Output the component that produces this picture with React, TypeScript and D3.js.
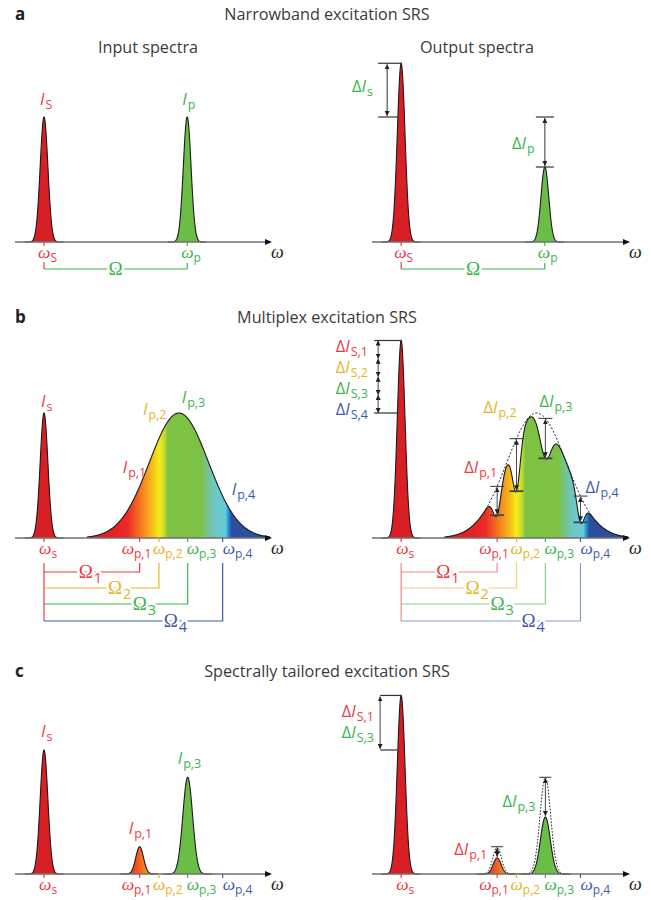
import React from "react";
import * as d3 from "d3";

// frequency positions (arbitrary units, 0-100 along each axis)
const omegaS = 11.3;
const omegaPumpA = 67;
const omegaPump = [48.5, 56, 67.2, 80.8];
const pumpSubs = ["p,1", "p,2", "p,3", "p,4"];

// a: narrowband
const aInput = [1.0, 1.0]; // Stokes, pump
const aOutput = [1.43, 0.6];
const narrowSigma = 1.5;

// b: multiplex
const bBandCenter = 63.8;
const bBandSigma = 11.5;
const bBandHeight = 1.0;
const bDipDepth = [0.23, 0.42, 0.32, 0.21];
const bDipSigma = [1.5, 1.5, 2.2, 1.4];
const bStokesGain = [0.145, 0.145, 0.145, 0.145];

// c: spectrally tailored
const cPumpIn = [0.22, 0, 0.78, 0];
const cPumpOut = [0.13, 0, 0.46, 0];
const cPumpSigma = [1.5, 0, 1.9, 0];
const cStokesGain = [0.22, 0, 0.22, 0];

const FONT = "'Open Sans', 'Noto Sans', sans-serif";
const SERIF = "'Liberation Serif', 'DejaVu Serif', serif";
const TXT = "#3a3a3a";
const RED = "#ee3a43";
const YEL = "#e8b425";
const GRN = "#39b54a";
const BLU = "#3d5ba9";
const pumpColors = [RED, YEL, GRN, BLU];
const FILL_RED = "#d91f26";
const FILL_GRN = "#6abd45";
const LS = 16.5; // label size

const specStops: [number, string][] = [
  [36, "#e31e24"],
  [44, "#ec2a25"],
  [49, "#f47a20"],
  [53, "#f8b41a"],
  [56, "#f5eb17"],
  [58, "#c9dc2a"],
  [59.5, "#7dc242"],
  [72, "#7dc242"],
  [76, "#73c3a8"],
  [79, "#69c9d1"],
  [82, "#69c9d1"],
  [82.6, "#1fb3ec"],
  [83.4, "#2c7cc7"],
  [84.2, "#2d4e9f"],
  [100, "#2d4b9c"],
];

const gauss = (w: number, c: number, s: number) => Math.exp(-((w - c) ** 2) / (2 * s * s));
const steps = (a: number, b: number, n: number) => d3.range(n + 1).map((i) => a + ((b - a) * i) / n);

function Peak({ x, y, c, s, h, fill, dashed }: any) {
  const pts = steps(c - 5 * s, c + 5 * s, 120).map((w) => [w, h * gauss(w, c, s)]);
  const area = d3.area<number[]>().x((d) => x(d[0])).y0(y(0)).y1((d) => y(d[1]))(pts);
  const line = d3.line<number[]>().x((d) => x(d[0])).y((d) => y(d[1]))(pts);
  return (
    <g>
      {fill && <path d={area!} fill={fill} />}
      <path d={line!} fill="none" stroke="#1a1a1a" strokeWidth={dashed ? 1 : 1.1} strokeDasharray={dashed ? "1.6,1.6" : undefined} />
    </g>
  );
}

function Lab({ x, y, color, pre, main, sub, size = LS, subSize, anchor = "start", serif = false, italic = true, halo = false, dy = 4, dx = 1 }: any) {
  return (
    <text x={x} y={y} fill={color} fontSize={size} textAnchor={anchor}
      stroke={halo ? "#fff" : undefined} strokeWidth={halo ? 5 : undefined} paintOrder="stroke" strokeLinejoin="round">
      {pre ? <tspan>{pre}</tspan> : null}
      <tspan fontStyle={italic ? "italic" : "normal"} fontFamily={serif ? SERIF : undefined}>{main}</tspan>
      {sub ? <tspan dx={dx} dy={dy} fontSize={subSize || size * 0.76} fontStyle="normal" fontFamily={FONT}>{sub}</tspan> : null}
    </text>
  );
}

function Axis({ x, y0 }: any) {
  const [a, b] = x.range();
  return (
    <g>
      <line x1={a} x2={b - 5} y1={y0} y2={y0} stroke="#707070" strokeWidth={1.5} />
      <path d={`M${b},${y0} L${b - 7},${y0 - 3} L${b - 7},${y0 + 3} Z`} fill="#111" />
      <text x={b - 1} y={y0 + 16} fontFamily={SERIF} fontStyle="italic" fontSize={18} fill="#222">ω</text>
    </g>
  );
}

function Tick({ x, y0, color }: any) {
  return <line x1={x} x2={x} y1={y0} y2={y0 + 4} stroke={color} strokeWidth={1.2} />;
}

function DArrow({ x, y1, y2, color = "#333", width = 1 }: any) {
  return <line x1={x} x2={x} y1={y1} y2={y2} stroke={color} strokeWidth={width} markerStart="url(#ah)" markerEnd="url(#ah)" />;
}

function Cap({ x1, x2, y, color = "#333", width = 1.2 }: any) {
  return <line x1={x1} x2={x2} y1={y} y2={y} stroke={color} strokeWidth={width} />;
}

// ω labels under the axis (offsets keep the subscripts from colliding)
const omegaDx = [-18, -6, -1, 0];

function OmegaLab({ x, y, color, sub }: any) {
  return <Lab x={x} y={y} color={color} main="ω" serif sub={sub} size={17.5} subSize={12} dx={0} />;
}

function OmegaRow({ x, y0, stokesSub, pumps }: any) {
  return (
    <g>
      <Tick x={x(omegaS)} y0={y0} color={RED} />
      <OmegaLab x={x(omegaS) - 5} y={y0 + 16} color={RED} sub={stokesSub} />
      {pumps.map((i: number) => (
        <g key={i}>
          <Tick x={x(omegaPump[i])} y0={y0} color={pumpColors[i]} />
          <OmegaLab x={x(omegaPump[i]) + omegaDx[i]} y={y0 + 16} color={pumpColors[i]} sub={pumpSubs[i]} />
        </g>
      ))}
    </g>
  );
}

function ABracket({ x, y0 }: any) {
  const xs = x(omegaS), xp = x(omegaPumpA), yb = y0 + 27;
  return (
    <g>
      <line x1={xs} x2={xs} y1={y0 + 20} y2={yb} stroke={RED} strokeWidth={1.2} />
      <line x1={xs} x2={xp} y1={yb} y2={yb} stroke={GRN} strokeWidth={1.2} />
      <line x1={xp} x2={xp} y1={y0 + 21} y2={yb} stroke={GRN} strokeWidth={1.2} />
      <Lab x={(xs + xp) / 2} y={yb + 6} color={GRN} main="Ω" serif italic={false} size={19} anchor="middle" halo />
    </g>
  );
}

const omegaBracketDy = [34, 50, 66, 83];
const omegaLabelDx = [-61, -51, -55, -59];

function BBracket({ x, y0, light }: any) {
  const xs = x(omegaS);
  const op = light ? 0.6 : 1;
  return (
    <g>
      <line x1={xs} x2={xs} y1={y0 + 25} y2={y0 + omegaBracketDy[3]} stroke={RED} strokeWidth={1.2} opacity={op} />
      {omegaPump.map((w, i) => {
        const yy = y0 + omegaBracketDy[i];
        return (
          <g key={i}>
            <path d={`M${xs},${yy} H${x(w)} V${y0 + 25}`} fill="none" stroke={pumpColors[i]} strokeWidth={1.2} opacity={op} />
            <Lab x={x(w) + omegaLabelDx[i]} y={yy + 6} color={pumpColors[i]} main="Ω" serif italic={false} size={19} sub={String(i + 1)} dy={5} halo />
          </g>
        );
      })}
    </g>
  );
}

export default function App() {
  const xL = d3.scaleLinear().domain([0, 100]).range([15, 272]);
  const xR = d3.scaleLinear().domain([0, 100]).range([372, 630]);
  const yA = d3.scaleLinear().domain([0, 1]).range([242, 117]);
  const yB = d3.scaleLinear().domain([0, 1]).range([538, 413]);
  const yC = d3.scaleLinear().domain([0, 1]).range([874, 750]);

  // b: broadband pump spectra
  const bandIn = (w: number) => bBandHeight * gauss(w, bBandCenter, bBandSigma);
  const bandOut = (w: number) =>
    Math.max(0, bandIn(w) - d3.sum(omegaPump, (c, i) => bDipDepth[i] * gauss(w, c, bDipSigma[i])));
  const bandW = steps(28, 99.3, 500);
  const bandArea = (x: any, f: (w: number) => number) =>
    d3.area<number>().x((w) => x(w)).y0(yB(0)).y1((w) => yB(f(w)))(bandW)!;
  const bandLine = (x: any, f: (w: number) => number, ws: number[]) =>
    d3.line<number>().x((w) => x(w)).y((w) => yB(f(w)))(ws)!;

  const bStokesOut = 1 + d3.sum(bStokesGain);
  const cStokesOut = 1 + d3.sum(cStokesGain);
  const bCum = d3.cumsum(bStokesGain);

  const grad = (id: string, x: any) => (
    <linearGradient id={id} gradientUnits="userSpaceOnUse" x1={x(0)} x2={x(100)} y1={0} y2={0}>
      {specStops.map(([w, c], i) => <stop key={i} offset={w / 100} stopColor={c} />)}
    </linearGradient>
  );
  const orange = (id: string, x: any) => (
    <linearGradient id={id} gradientUnits="userSpaceOnUse" x1={x(omegaPump[0] - 4)} x2={x(omegaPump[0] + 4)} y1={0} y2={0}>
      <stop offset={0} stopColor="#ec2a25" />
      <stop offset={1} stopColor="#f7a01b" />
    </linearGradient>
  );

  const bInLabDx = [-17, -16, -6, 9];
  const bInLabY = [473, 415, 403, 495];
  const bOutLabDx = [-33, -33, -6, 5];
  const bOutLabY = [473, 413, 407, 493];

  return (
    <svg width={651} height={900} style={{ position: "absolute", left: 0, top: 0, background: "#fff" }} fontFamily={FONT}>
      <defs>
        <marker id="ah" viewBox="0 0 10 10" refX={10} refY={5} markerWidth={5} markerHeight={5} markerUnits="userSpaceOnUse" orient="auto-start-reverse">
          <path d="M0,0 L10,5 L0,10 z" fill="#222" />
        </marker>
        {grad("specL", xL)}
        {grad("specR", xR)}
        {orange("orL", xL)}
        {orange("orR", xR)}
      </defs>

      {/* ---------- a ---------- */}
      <text x={15} y={20} fontSize={17} fontWeight="bold" fill="#222">a</text>
      <text x={327} y={20} fontSize={16.2} fill={TXT} textAnchor="middle">Narrowband excitation SRS</text>
      <text x={148} y={53} fontSize={16.2} fill={TXT} textAnchor="middle">Input spectra</text>
      <text x={477} y={53} fontSize={16.2} fill={TXT} textAnchor="middle">Output spectra</text>

      <Peak x={xL} y={yA} c={omegaS} s={narrowSigma} h={aInput[0]} fill={FILL_RED} />
      <Peak x={xL} y={yA} c={omegaPumpA} s={narrowSigma} h={aInput[1]} fill={FILL_GRN} />
      <Axis x={xL} y0={yA(0)} />
      <Lab x={xL(omegaS) - 4} y={yA(aInput[0]) - 12} color={RED} main="I" sub="S" />
      <Lab x={xL(omegaPumpA) - 5} y={yA(aInput[1]) - 12} color={GRN} main="I" sub="p" />
      <Tick x={xL(omegaS)} y0={yA(0)} color={RED} />
      <Tick x={xL(omegaPumpA)} y0={yA(0)} color={GRN} />
      <OmegaLab x={xL(omegaS) - 6} y={yA(0) + 16} color={RED} sub="S" />
      <OmegaLab x={xL(omegaPumpA) - 6} y={yA(0) + 16} color={GRN} sub="p" />
      <ABracket x={xL} y0={yA(0)} />

      <Peak x={xR} y={yA} c={omegaS} s={narrowSigma} h={aOutput[0]} fill={FILL_RED} />
      <Peak x={xR} y={yA} c={omegaPumpA} s={narrowSigma} h={aOutput[1]} fill={FILL_GRN} />
      <Axis x={xR} y0={yA(0)} />
      <Cap x1={xR(omegaS) - 23} x2={xR(omegaS)} y={yA(aOutput[0])} />
      <Cap x1={xR(omegaS) - 23} x2={xR(omegaS) - 3} y={yA(aInput[0])} />
      <DArrow x={xR(omegaS) - 14} y1={yA(aOutput[0]) + 1} y2={yA(aInput[0]) - 1} />
      <Cap x1={xR(omegaPumpA) - 9} x2={xR(omegaPumpA) + 9} y={yA(aInput[1])} />
      <Cap x1={xR(omegaPumpA) - 9} x2={xR(omegaPumpA) + 9} y={yA(aOutput[1])} />
      <DArrow x={xR(omegaPumpA)} y1={yA(aInput[1]) + 1} y2={yA(aOutput[1]) - 1} />
      <Lab x={352} y={92} color={GRN} pre="Δ" main="I" sub="s" />
      <Lab x={512} y={149} color={GRN} pre="Δ" main="I" sub="p" />
      <Tick x={xR(omegaS)} y0={yA(0)} color={RED} />
      <Tick x={xR(omegaPumpA)} y0={yA(0)} color={GRN} />
      <OmegaLab x={xR(omegaS) - 7} y={yA(0) + 16} color={RED} sub="S" />
      <OmegaLab x={xR(omegaPumpA) - 7} y={yA(0) + 16} color={GRN} sub="p" />
      <ABracket x={xR} y0={yA(0)} />

      {/* ---------- b ---------- */}
      <text x={15} y={323} fontSize={17} fontWeight="bold" fill="#222">b</text>
      <text x={327} y={323} fontSize={16.2} fill={TXT} textAnchor="middle">Multiplex excitation SRS</text>

      <Peak x={xL} y={yB} c={omegaS} s={narrowSigma} h={1} fill={FILL_RED} />
      <path d={bandArea(xL, bandIn)} fill="url(#specL)" />
      <path d={bandLine(xL, bandIn, bandW)} fill="none" stroke="#1a1a1a" strokeWidth={1.1} />
      <Axis x={xL} y0={yB(0)} />
      <Lab x={xL(omegaS) - 3} y={yB(1) - 6} color={RED} main="I" sub="s" />
      {omegaPump.map((w, i) => (
        <Lab key={i} x={xL(w) + bInLabDx[i]} y={bInLabY[i]} color={pumpColors[i]} main="I" sub={pumpSubs[i]} />
      ))}
      <OmegaRow x={xL} y0={yB(0)} stokesSub="s" pumps={[0, 1, 2, 3]} />
      <BBracket x={xL} y0={yB(0)} />

      <Peak x={xR} y={yB} c={omegaS} s={narrowSigma} h={bStokesOut} fill={FILL_RED} />
      <path d={bandArea(xR, bandOut)} fill="url(#specR)" />
      <path d={bandLine(xR, bandOut, bandW)} fill="none" stroke="#1a1a1a" strokeWidth={1.1} />
      <path d={bandLine(xR, bandIn, steps(44, 85, 200))} fill="none" stroke="#1a1a1a" strokeWidth={1} strokeDasharray="2,1.8" />
      <Axis x={xR} y0={yB(0)} />
      <Cap x1={xR(omegaS) - 27} x2={xR(omegaS)} y={yB(bStokesOut)} />
      <Cap x1={xR(omegaS) - 27} x2={xR(omegaS) - 4} y={yB(1)} />
      {bStokesGain.map((g, i) => (
        <DArrow key={i} x={xR(omegaS) - 23} y1={yB(bStokesOut - (bCum[i] - g))} y2={yB(bStokesOut - bCum[i])} width={0.9} />
      ))}
      {omegaPump.map((w, i) => (
        <Lab key={i} x={368} y={352 + 21 * i} color={pumpColors[i]} pre="Δ" main="I" sub={"S," + (i + 1)} anchor="end" />
      ))}
      {omegaPump.map((w, i) => {
        const top = yB(bandIn(w)), bot = yB(bandOut(w));
        return (
          <g key={i}>
            <Cap x1={xR(w) - 7} x2={xR(w) + 7} y={top} width={1} />
            <Cap x1={xR(w) - 7} x2={xR(w) + 7} y={bot} color="#444" width={1.8} />
            <DArrow x={xR(w)} y1={top + 1} y2={bot - 1} width={0.9} />
            <Lab x={xR(w) + bOutLabDx[i]} y={bOutLabY[i]} color={pumpColors[i]} pre="Δ" main="I" sub={pumpSubs[i]} />
          </g>
        );
      })}
      <OmegaRow x={xR} y0={yB(0)} stokesSub="s" pumps={[0, 1, 2, 3]} />
      <BBracket x={xR} y0={yB(0)} light />

      {/* ---------- c ---------- */}
      <text x={15} y={677} fontSize={17} fontWeight="bold" fill="#222">c</text>
      <text x={327} y={677} fontSize={16.2} fill={TXT} textAnchor="middle">Spectrally tailored excitation SRS</text>

      <Peak x={xL} y={yC} c={omegaS} s={narrowSigma} h={1} fill={FILL_RED} />
      {omegaPump.map((w, i) =>
        cPumpIn[i] > 0 ? (
          <Peak key={i} x={xL} y={yC} c={w} s={cPumpSigma[i]} h={cPumpIn[i]} fill={i === 0 ? "url(#orL)" : FILL_GRN} />
        ) : null
      )}
      <Axis x={xL} y0={yC(0)} />
      <Lab x={xL(omegaS) - 3} y={yC(1) - 13} color={RED} main="I" sub="s" />
      <Lab x={xL(omegaPump[0]) - 11} y={yC(cPumpIn[0]) - 13} color={RED} main="I" sub="p,1" />
      <Lab x={xL(omegaPump[2]) - 10} y={yC(cPumpIn[2]) - 13} color={GRN} main="I" sub="p,3" />
      <OmegaRow x={xL} y0={yC(0)} stokesSub="s" pumps={[0, 1, 2, 3]} />

      <Peak x={xR} y={yC} c={omegaS} s={narrowSigma} h={cStokesOut} fill={FILL_RED} />
      {omegaPump.map((w, i) =>
        cPumpIn[i] > 0 ? (
          <g key={i}>
            <Peak x={xR} y={yC} c={w} s={cPumpSigma[i]} h={cPumpOut[i]} fill={i === 0 ? "url(#orR)" : FILL_GRN} />
            <Peak x={xR} y={yC} c={w} s={cPumpSigma[i] * 1.08} h={cPumpIn[i]} dashed />
            <Cap x1={xR(w) - 6} x2={xR(w) + 6} y={yC(cPumpIn[i])} width={1} />
            <DArrow x={xR(w)} y1={yC(cPumpIn[i]) + 1} y2={yC(cPumpOut[i]) - 1} width={0.9} />
            <Lab x={xR(w) - 43} y={i === 0 ? yC(cPumpIn[i]) + 8 : yC(cPumpOut[i]) - 10} color={pumpColors[i]} pre="Δ" main="I" sub={pumpSubs[i]} />
          </g>
        ) : null
      )}
      <Axis x={xR} y0={yC(0)} />
      <Cap x1={xR(omegaS) - 21} x2={xR(omegaS)} y={yC(cStokesOut)} />
      <Cap x1={xR(omegaS) - 21} x2={xR(omegaS) - 4} y={yC(1)} />
      <DArrow x={xR(omegaS) - 21} y1={yC(cStokesOut) + 1} y2={yC(1) - 1} color="#777" width={1.4} />
      <Lab x={374} y={717} color={RED} pre="Δ" main="I" sub="S,1" anchor="end" />
      <Lab x={374} y={738} color={GRN} pre="Δ" main="I" sub="S,3" anchor="end" />
      <OmegaRow x={xR} y0={yC(0)} stokesSub="s" pumps={[0, 1, 2, 3]} />
    </svg>
  );
}
